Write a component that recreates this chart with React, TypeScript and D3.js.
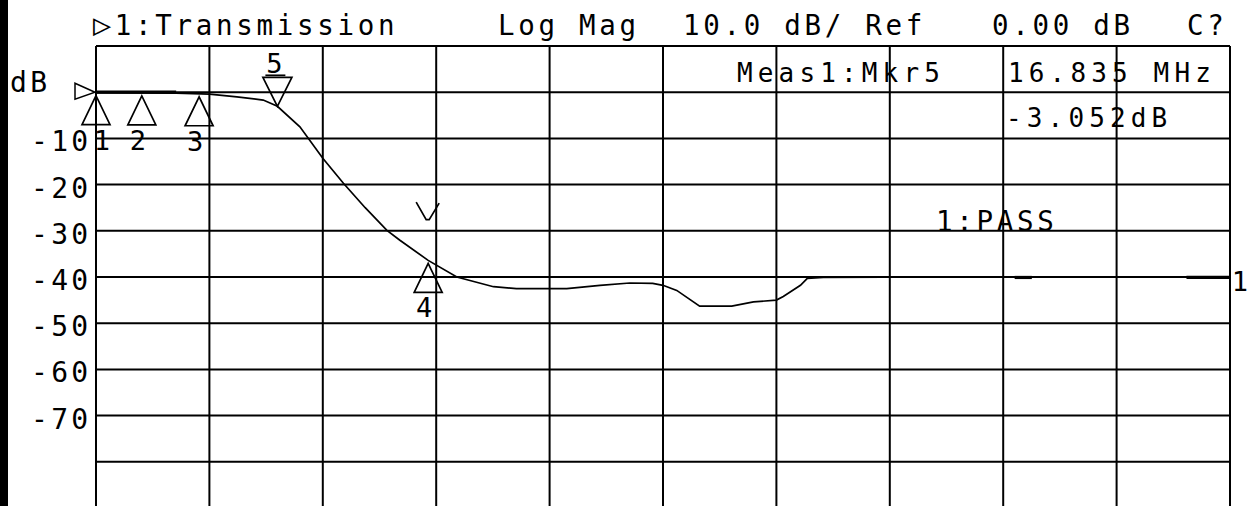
import * as d3 from "d3";

// Network analyzer screen: transmission of a low-pass filter, 1 MHz – 100 MHz
const W = 1247;
const H = 506;

// stimulus (MHz) and measured log magnitude (dB)
const freqMHz = [1, 8, 10.9, 13.3, 15.6, 16.835, 18.8, 20.8, 22.6, 24.5, 26.4, 27.5, 30, 32.5, 35.7, 37.7, 42.1, 45, 47.6, 49.6, 50.5, 51.7, 53.7, 56.5, 58.4, 60.4, 61, 62.5, 63.1, 64.5, 75, 90, 100];
const magDb = [-0.1, -0.2, -0.4, -1.0, -1.7, -3.052, -7.5, -14.3, -19.7, -25, -29.9, -32, -36.4, -40, -42.1, -42.5, -42.5, -41.8, -41.3, -41.4, -41.8, -42.9, -46.3, -46.3, -45.4, -45, -44.2, -41.8, -40.3, -40.1, -40, -40, -40];

// limit line segments: start MHz, stop MHz, level dB
const limitStart = [1, 81.2, 96.2];
const limitStop = [8, 82.7, 100];
const limitLevel = [0, -40.1, -40.1];

// markers
const markerNames = ["1", "2", "3", "4", "5"];
const markerFreq = [1, 5, 10, 30, 16.835];
const activeMarker = "5";

const yTickDb = [-10, -20, -30, -40, -50, -60, -70];

const xScale = d3.scaleLinear().domain([1, 100]).range([96, 1230]);
const yScale = d3.scaleLinear().domain([10, -90]).range([46, 508]);

const font = "DejaVu Sans Mono";

function traceAt(f: number) {
  const i = d3.bisectLeft(freqMHz, f);
  if (i <= 0) return magDb[0];
  if (i >= freqMHz.length) return magDb[magDb.length - 1];
  const t = (f - freqMHz[i - 1]) / (freqMHz[i] - freqMHz[i - 1]);
  return magDb[i - 1] + t * (magDb[i] - magDb[i - 1]);
}

export default function App() {
  const pts = freqMHz.map((f, i) => [xScale(f), yScale(magDb[i])] as [number, number]);
  const trace = d3.line()(pts) || "";
  const vLines = d3.range(11).map(i => 1 + i * 9.9);
  const hLines = d3.range(10, -91, -10);

  const titleStyle = { fontFamily: font, fontSize: 27.5, letterSpacing: 3.7 };
  const measStyle = { fontFamily: font, fontSize: 26, letterSpacing: 5.15 };
  const axisStyle = { fontFamily: font, fontSize: 28, letterSpacing: 3.3 };
  const mkStyle = { fontFamily: font, fontSize: 27 };

  const m4x = xScale(markerFreq[3]);

  return (
    <svg width={W} height={H} style={{ position: "absolute", left: 0, top: 0, background: "#fff" }}>
      <rect x={0} y={0} width={8} height={H} fill="#000" />

      {/* grid */}
      <g stroke="#000" strokeWidth={2}>
        {vLines.map(f => (
          <line key={"v" + f} x1={xScale(f)} x2={xScale(f)} y1={yScale(10)} y2={yScale(-90)} />
        ))}
        {hLines.map(d => (
          <line key={"h" + d} x1={xScale(1)} x2={xScale(100)} y1={yScale(d)} y2={yScale(d)} />
        ))}
      </g>

      {/* header */}
      <g fill="#000">
        <text x={93} y={35} style={titleStyle}>
          <tspan style={{ fontSize: 30 }}>▷</tspan>1:Transmission
        </text>
        <text x={498} y={35} style={titleStyle}>Log Mag</text>
        <text x={683} y={35} style={titleStyle}>10.0 dB/ Ref</text>
        <text x={992} y={35} style={titleStyle}>0.00 dB</text>
        <text x={1187} y={35} style={titleStyle}>C?</text>

        <text x={737} y={82} style={measStyle}>Meas1:Mkr5</text>
        <text x={1008} y={82} style={measStyle}>16.835 MHz</text>
        <text x={1006} y={127} style={measStyle}>-3.052dB</text>

        <text x={936} y={yScale(-30)} style={titleStyle}>1:PASS</text>
      </g>

      {/* y labels */}
      <g fill="#000">
        <text x={10} y={yScale(0)} style={axisStyle}>dB</text>
        {yTickDb.map(d => (
          <text key={d} x={31} y={yScale(d) + 13} style={axisStyle}>{String(d)}</text>
        ))}
      </g>

      {/* reference level pointer */}
      <path
        d={`M${xScale(1) - 21},${yScale(0) - 9}L${xScale(1) - 1},${yScale(0)}L${xScale(1) - 21},${yScale(0) + 7}Z`}
        fill="none" stroke="#000" strokeWidth={1.5} />

      {/* limit lines */}
      <g stroke="#000" strokeWidth={3.2}>
        {limitStart.map((s, i) => (
          <line key={i} x1={xScale(s)} x2={xScale(limitStop[i])} y1={yScale(limitLevel[i])} y2={yScale(limitLevel[i])} />
        ))}
      </g>

      {/* trace */}
      <path d={trace} fill="none" stroke="#000" strokeWidth={1.7} />
      <text x={1240} y={yScale(magDb[magDb.length - 1]) + 14} textAnchor="middle" style={mkStyle}>1</text>

      {/* markers */}
      <g fill="none" stroke="#000" strokeWidth={1.7}>
        {markerNames.map((n, i) => {
          const mx = xScale(markerFreq[i]);
          const my = yScale(traceAt(markerFreq[i]));
          if (n === activeMarker) {
            return (
              <g key={n}>
                <path d={`M${mx},${my}L${mx - 14.5},${my - 29}L${mx + 14.5},${my - 29}Z`} />
                <line x1={mx - 12} x2={mx + 8} y1={my - 31} y2={my - 31} />
                <text x={mx - 3} y={my - 33} textAnchor="middle" fill="#000" stroke="none" style={mkStyle}>{n}</text>
              </g>
            );
          }
          const ay = my + 3;
          // marker 1 label sits against the grid edge, clear of the "-10" tick label
          const lx = i === 0 ? mx + 6 : mx - 4;
          return (
            <g key={n}>
              <path d={`M${mx},${ay}L${mx - 14},${ay + 29}L${mx + 14},${ay + 29}Z`} />
              <text x={lx} y={ay + 54} textAnchor="middle" fill="#000" stroke="none" style={mkStyle}>{n}</text>
            </g>
          );
        })}
        {/* search pointer above marker 4 */}
        <path d={`M${m4x - 12},${yScale(-23.8)}L${m4x - 2},${yScale(-27.6)}L${m4x + 1},${yScale(-27.6)}L${m4x + 11},${yScale(-24)}`} />
      </g>
    </svg>
  );
}
